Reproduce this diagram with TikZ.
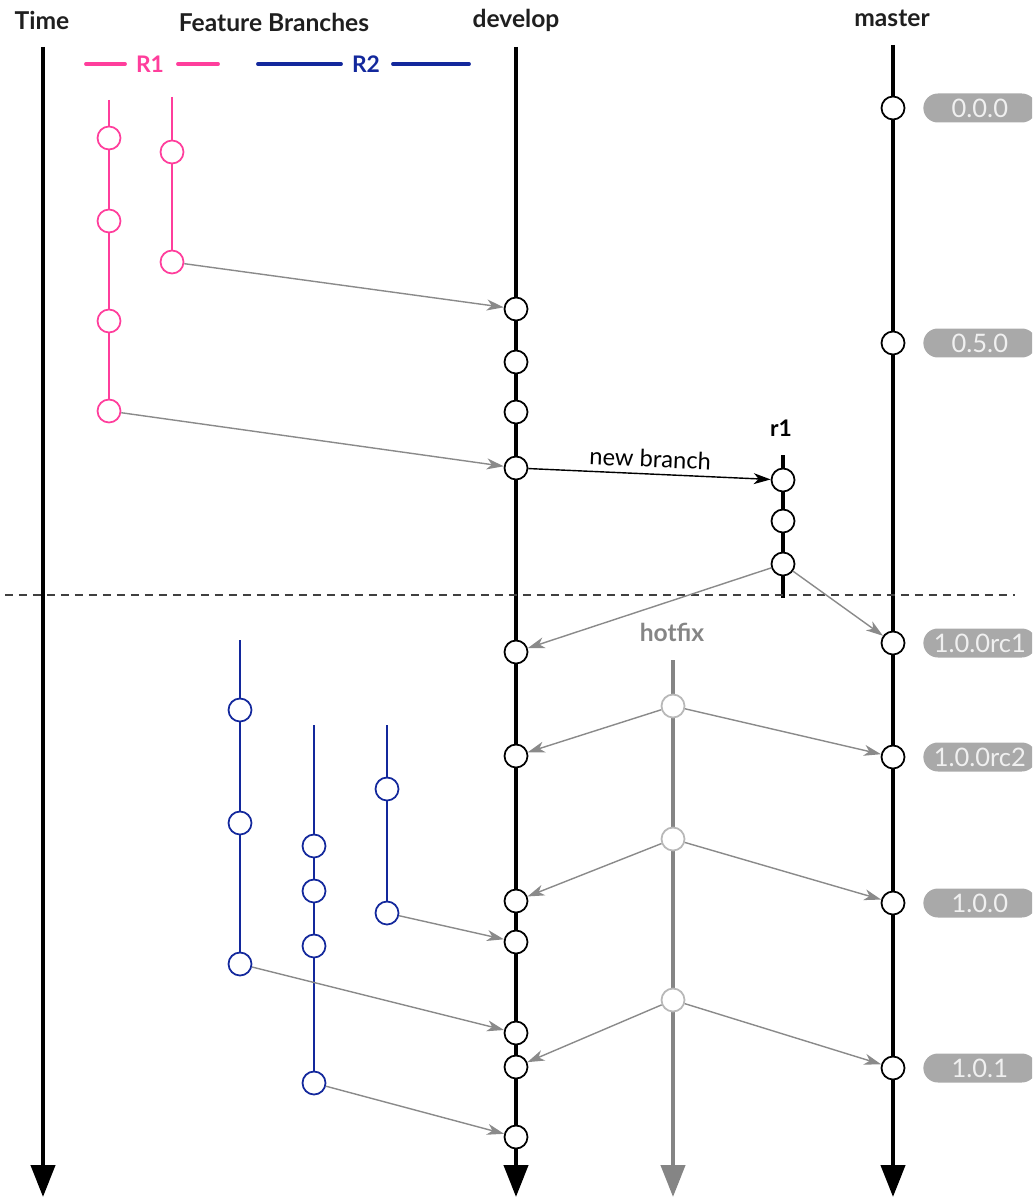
\documentclass[tikz,border=0pt]{standalone}
\usepackage{fontspec}
\setmainfont{Lato}
\usetikzlibrary{arrows.meta}

\definecolor{featpink}{HTML}{FF3E9C}
\definecolor{featblue}{HTML}{13289C}
\definecolor{mergegray}{HTML}{8A8A8A}
\definecolor{hotgray}{HTML}{858585}
\definecolor{taggray}{HTML}{A9A9A9}

\tikzset{
  commit/.style={circle, draw=#1, fill=white, line width=1pt, minimum size=0.46cm, inner sep=0pt},
  commit/.default=black,
  mainline/.style={line width=2.4pt, -{Triangle[length=0.64cm, width=0.48cm]}},
  featline/.style={line width=1.3pt},
  legendline/.style={line width=2.2pt, line cap=round},
  merge/.style={draw=mergegray, line width=0.8pt, -{Stealth[length=0.34cm, width=0.22cm, inset=0.1cm]}},
  tag/.style={anchor=west, fill=taggray, text=white!94!black, rounded corners=0.29cm,
    minimum width=2.26cm, minimum height=0.58cm, inner sep=0pt, font=\fontsize{14.5}{16}\selectfont},
  heading/.style={font=\bfseries\fontsize{14}{16}\selectfont, text=black!88}
}

\begin{document}
\begin{tikzpicture}[x=0.02cm, y=-0.02cm]
  \useasboundingbox (0,0) rectangle (1032,1199);
  \clip (0,0) rectangle (1032,1199);

  % headings
  \node[heading] (timelbl) at (42,20) {Time};
  \node[heading] (featlbl) at (274,22) {Feature Branches};
  \node[heading] (devlbl) at (516,20) {develop};
  \node[heading] (masterlbl) at (892,18) {master};

  % legend
  \node[font=\bfseries\fontsize{13}{15}\selectfont, text=featpink] (r1key) at (150,64) {R1};
  \node[font=\bfseries\fontsize{13}{15}\selectfont, text=featblue] (r2key) at (366,64) {R2};
  \draw[legendline, featpink] (86,64) -- (125,64);
  \draw[legendline, featpink] (178,64) -- (218,64);
  \draw[legendline, featblue] (258,64) -- (341,64);
  \draw[legendline, featblue] (393,64) -- (469,64);

  % main lines
  \draw[mainline] (43,47) -- (43,1197);
  \draw[mainline] (516,47) -- (516,1197);
  \draw[mainline] (893,45) -- (893,1197);
  \draw[mainline, hotgray] (673,660) -- (673,1197);
  \draw[line width=2.4pt] (783,455) -- (783,598);

  % feature branch lines
  \draw[featline, featpink] (109,100) -- (109,411);
  \draw[featline, featpink] (172,97) -- (172,262);
  \draw[featline, featblue] (240,640) -- (240,964);
  \draw[featline, featblue] (314,725) -- (314,1083);
  \draw[featline, featblue] (387,725) -- (387,913);

  % release cut
  \draw[black!75, line width=0.7pt, dash pattern=on 0.16cm off 0.12cm] (5,595) -- (1015,595);

  % commits
  \foreach \y [count=\i] in {309,362,412,468,652,756,901,942,1033,1067,1137}
    \node[commit] (d\i) at (516,\y) {};
  \foreach \y/\t [count=\i] in {108/0.0.0, 343/0.5.0, 643/1.0.0rc1, 757/1.0.0rc2, 903/1.0.0, 1068/1.0.1}
  {
    \node[commit] (m\i) at (893,\y) {};
    \node[tag] (tag\i) at (923,\y) {\t};
  }
  \foreach \y [count=\i] in {480,521,564}
    \node[commit] (r\i) at (783,\y) {};
  \foreach \y [count=\i] in {706,839,1000}
    \node[commit=black!28] (h\i) at (673,\y) {};
  \foreach \y [count=\i] in {138,221,321,411}
    \node[commit=featpink] (fa\i) at (109,\y) {};
  \foreach \y [count=\i] in {152,262}
    \node[commit=featpink] (fb\i) at (172,\y) {};
  \foreach \y [count=\i] in {710,823,964}
    \node[commit=featblue] (fc\i) at (240,\y) {};
  \foreach \y [count=\i] in {846,891,946,1083}
    \node[commit=featblue] (fd\i) at (314,\y) {};
  \foreach \y [count=\i] in {789,913}
    \node[commit=featblue] (fe\i) at (387,\y) {};

  % labels
  \node[font=\bfseries\fontsize{13}{15}\selectfont] (r1lbl) at (781,428) {r1};
  \node[font=\bfseries\fontsize{14}{16}\selectfont, text=hotgray] (hotlbl) at (672,632) {hotfix};

  % merges
  \draw[merge] (fb2) -- (d1);
  \draw[merge] (fa4) -- (d4);
  \draw[line width=0.8pt, -{Stealth[length=0.34cm, width=0.22cm, inset=0.1cm]}] (d4) -- node[midway, above, sloped, font=\fontsize{13.5}{15}\selectfont] {new branch} (r1);
  \draw[merge] (r3) -- (d5);
  \draw[merge] (r3) -- (m3);
  \draw[merge] (h1) -- (d6);
  \draw[merge] (h1) -- (m4);
  \draw[merge] (h2) -- (d7);
  \draw[merge] (h2) -- (m5);
  \draw[merge] (h3) -- (d10);
  \draw[merge] (h3) -- (m6);
  \draw[merge] (fe2) -- (d8);
  \draw[merge] (fc3) -- (d9);
  \draw[merge] (fd4) -- (d11);
\end{tikzpicture}
\end{document}
